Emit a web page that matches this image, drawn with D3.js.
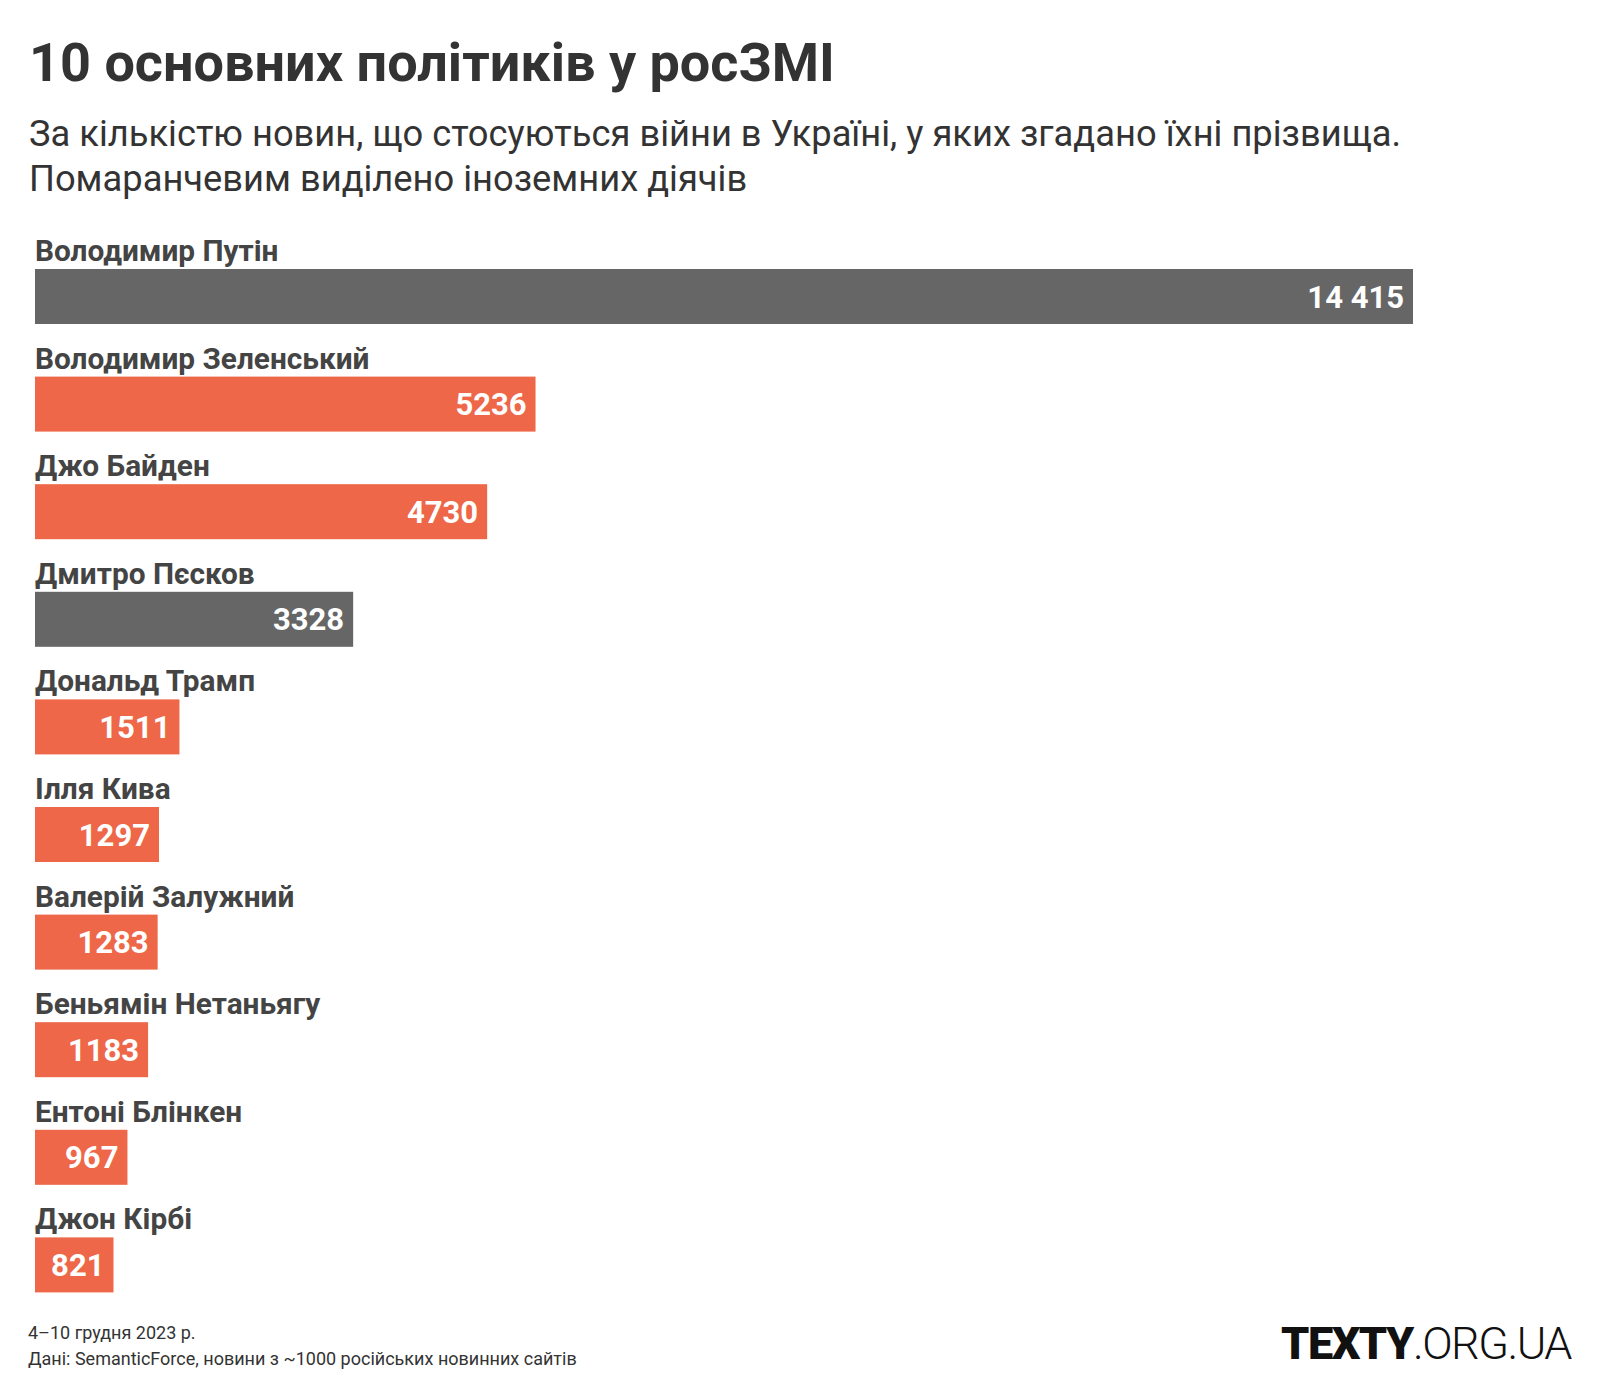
<!DOCTYPE html>
<html>
<head>
<meta charset="utf-8">
<script src="https://cdn.jsdelivr.net/npm/d3@7"></script>
<style>
  html, body { margin: 0; padding: 0; background: #fff; }
  svg { display: block; font-family: Roboto, "Noto Sans", sans-serif; }
</style>
</head>
<body>
<svg id="chart" width="1600" height="1400"></svg>
<script>
const names = ["Володимир Путін", "Володимир Зеленський", "Джо Байден", "Дмитро Пєсков", "Дональд Трамп", "Ілля Кива", "Валерій Залужний", "Беньямін Нетаньягу", "Ентоні Блінкен", "Джон Кірбі"];
const values = [14415, 5236, 4730, 3328, 1511, 1297, 1283, 1183, 967, 821];
const foreign = [false, true, true, false, true, true, true, true, true, true];

const title = "10 основних політиків у росЗМІ";
const subtitle = ["За кількістю новин, що стосуються війни в Україні, у яких згадано їхні прізвища.", "Помаранчевим виділено іноземних діячів"];
const footer = ["4–10 грудня 2023 р.", "Дані: SemanticForce, новини з ~1000 російських новинних сайтів"];

const svg = d3.select("#chart");
const left = 35, right = 1413;
const barH = 55;

const x = d3.scaleLinear().domain([0, d3.max(values)]).range([left, right]);
const y = d3.scalePoint().domain(names).range([269, 269 + 9 * 107.6]);
const color = d => d ? "#ed6748" : "#666666";
const fmt = v => v >= 10000 ? d3.format(",")(v).replace(/,/g, " ") : String(v);

const data = names.map((n, i) => ({name: n, value: values[i], foreign: foreign[i]}));

svg.append("text").attr("x", 29).attr("y", 81)
  .attr("font-size", 54).attr("font-weight", 700).attr("fill", "#333")
  .text(title);

subtitle.forEach((s, i) => {
  svg.append("text").attr("x", 29).attr("y", 146 + i * 45)
    .attr("font-size", 36.3).attr("font-weight", 400).attr("fill", "#333")
    .text(s);
});

const g = svg.append("g");
const row = g.selectAll("g.row").data(data).join("g").attr("class", "row");

row.append("text")
  .attr("x", left)
  .attr("y", d => y(d.name) - 8)
  .attr("font-size", 29.8).attr("font-weight", 700).attr("fill", "#444")
  .text(d => d.name);

row.append("rect")
  .attr("x", x(0))
  .attr("y", d => y(d.name))
  .attr("width", d => x(d.value) - x(0))
  .attr("height", barH)
  .attr("fill", d => color(d.foreign));

row.append("text")
  .attr("x", d => x(d.value) - 9)
  .attr("y", d => y(d.name) + barH / 2 + 11)
  .attr("text-anchor", "end")
  .attr("font-size", 31).attr("font-weight", 700).attr("fill", "#fff")
  .text(d => fmt(d.value));

footer.forEach((s, i) => {
  svg.append("text").attr("x", 28).attr("y", 1339 + i * 26)
    .attr("font-size", 18).attr("fill", "#333")
    .text(s);
});

const logo = svg.append("text").attr("x", 1571).attr("y", 1359)
  .attr("text-anchor", "end").attr("font-size", 45).attr("fill", "#111")
  .attr("letter-spacing", -1.5);
logo.append("tspan").attr("font-weight", 900).text("TEXTY");
logo.append("tspan").attr("font-weight", 300).text(".ORG.UA");
</script>
</body>
</html>
